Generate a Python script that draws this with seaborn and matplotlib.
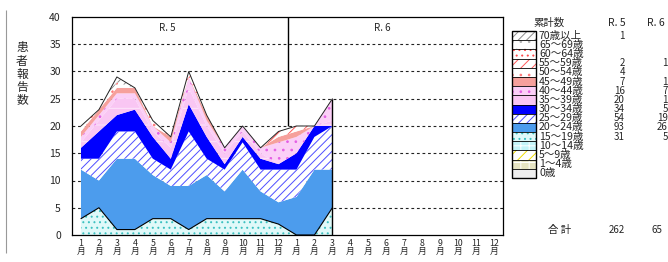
import numpy as np
import pandas as pd
import matplotlib
matplotlib.use("Agg")
import matplotlib.pyplot as plt
import seaborn as sns
from matplotlib.patches import Rectangle

# ---------------- data ----------------
months = [f"{m}\n月" for m in range(1, 13)] * 2          # R5 1-12, R6 1-12
period_labels = ["R. 5", "R. 6"]
# reports per month: R5 Jan..Dec, R6 Jan..Mar
a0 = [0, 0, 0, 0, 0, 0, 0, 0, 0, 0, 0, 0, 0, 0, 0]
a1_4 = [0, 0, 0, 0, 0, 0, 0, 0, 0, 0, 0, 0, 0, 0, 0]
a5_9 = [0, 0, 0, 0, 0, 0, 0, 0, 0, 0, 0, 0, 0, 0, 0]
a10_14 = [0, 0, 0, 0, 0, 0, 0, 0, 0, 0, 0, 0, 0, 0, 0]
a15_19 = [3, 5, 1, 1, 3, 3, 1, 3, 3, 3, 3, 2, 0, 0, 5]
a20_24 = [9, 5, 13, 13, 8, 6, 8, 8, 5, 9, 5, 4, 7, 12, 7]
a25_29 = [2, 4, 5, 5, 3, 3, 10, 3, 4, 5, 4, 6, 5, 6, 8]
a30_34 = [2, 5, 3, 4, 4, 2, 5, 4, 1, 1, 2, 1, 3, 2, 0]
a35_39 = [1, 2, 3, 2, 1, 2, 3, 2, 2, 1, 1, 0, 0, 0, 1]
a40_44 = [1, 1, 1, 1, 1, 1, 2, 1, 1, 1, 1, 4, 3, 0, 4]
a45_49 = [1, 1, 1, 1, 0, 1, 0, 1, 0, 0, 0, 1, 1, 0, 0]
a50_54 = [1, 0, 1, 0, 1, 0, 0, 0, 0, 0, 0, 0, 0, 0, 0]
a55_59 = [0, 0, 0, 0, 0, 0, 1, 0, 0, 0, 0, 1, 1, 0, 0]
a60_64 = [0, 0, 0, 0, 0, 0, 0, 0, 0, 0, 0, 0, 0, 0, 0]
a65_69 = [0, 0, 0, 0, 0, 0, 0, 0, 0, 0, 0, 0, 0, 0, 0]
a70 = [0, 0, 1, 0, 0, 0, 0, 0, 0, 0, 0, 0, 0, 0, 0]

age_groups = ["0歳", "1～4歳", "5～9歳", "10～14歳", "15～19歳", "20～24歳",
              "25～29歳", "30～34歳", "35～39歳", "40～44歳", "45～49歳",
              "50～54歳", "55～59歳", "60～64歳", "65～69歳", "70歳以上"]
series = [a0, a1_4, a5_9, a10_14, a15_19, a20_24, a25_29, a30_34, a35_39,
          a40_44, a45_49, a50_54, a55_59, a60_64, a65_69, a70]

# cumulative totals column (legend order: 70歳以上 ... 0歳)
r5_totals = ["1", "", "", "2", "4", "7", "16", "20", "34", "54", "93", "31", "", "", "", ""]
r6_totals = ["", "", "", "1", "", "1", "7", "1", "5", "19", "26", "5", "", "", "", ""]
grand_totals = ["262", "65"]

# ---------------- styles ----------------
styles = {
    "70歳以上": dict(fc="white", hatch="////", hc="#8c8c8c"),
    "65～69歳": dict(fc="white", hatch="..", hc="#b4b4b4"),
    "60～64歳": dict(fc="white", hatch="...", hc="#ff4a4a"),
    "55～59歳": dict(fc="white", hatch="///", hc="#ff5a5a"),
    "50～54歳": dict(fc="white", hatch="..", hc="#ff7a7a"),
    "45～49歳": dict(fc="#f6a09c", hatch=None, hc=None),
    "40～44歳": dict(fc="#fbcff7", hatch="..", hc="#e45ee4"),
    "35～39歳": dict(fc="#f9c6f3", hatch="-", hc="#fde6fb"),
    "30～34歳": dict(fc="#0000ff", hatch=None, hc=None),
    "25～29歳": dict(fc="white", hatch="////", hc="#4e4eff"),
    "20～24歳": dict(fc="#4c9ced", hatch=None, hc=None),
    "15～19歳": dict(fc="#e0f9f9", hatch="...", hc="#3cc0c0"),
    "10～14歳": dict(fc="#c4f4f8", hatch="++", hc="white"),
    "5～9歳": dict(fc="white", hatch="///", hc="#f0dc00"),
    "1～4歳": dict(fc="#e6e4c2", hatch="++", hc="white"),
    "0歳": dict(fc="#eeeeee", hatch=None, hc=None),
}

sns.set_style("white")
plt.rcParams["font.family"] = ["Noto Sans CJK JP", "DejaVu Sans"]
plt.rcParams["hatch.linewidth"] = 0.7

W, H = 668, 262
fig = plt.figure(figsize=(W / 100, H / 100), dpi=100)
fig.patch.set_facecolor("white")
ax = fig.add_axes([72 / W, 1 - 235 / H, (503 - 72) / W, (235 - 17) / H])

x = np.arange(1, len(a15_19) + 1)
df = pd.DataFrame({g: s for g, s in zip(age_groups, series)})
df["x"] = x
cum = np.zeros(len(x))
for g in age_groups:
    vals = df[g].to_numpy(dtype=float)
    top = cum + vals
    st = styles[g]
    kw = dict(facecolor=st["fc"], linewidth=0)
    if st["hatch"]:
        kw.update(hatch=st["hatch"], edgecolor=st["hc"])
    else:
        kw.update(edgecolor="none")
    ax.fill_between(x, cum, top, **kw, zorder=2)
    if g == "15～19歳":
        sns.lineplot(x=x, y=top, ax=ax, color="black", lw=0.8, zorder=3)
    cum = top
total = cum
sns.lineplot(x=x, y=total, ax=ax, color="#222222", lw=0.7, zorder=3)
ax.vlines(x[-1], 0, total[-1], color="black", lw=1.0, zorder=3)

# grid
for yv in range(5, 40, 5):
    ax.axhline(yv, color="#222222", lw=0.8, ls=(0, (2.5, 2.5)), zorder=1)

# period divider
ax.vlines(12.5, total[12], 40, color="black", lw=1.0, zorder=3)
ax.text(5.8, 38.0, period_labels[0], fontsize=7, ha="center", va="center")
ax.text(17.8, 38.0, period_labels[1], fontsize=7, ha="center", va="center")

ax.set_xlim(0.5, 24.5)
ax.set_ylim(0, 40)
ax.set_yticks(range(0, 41, 5))
ax.set_yticklabels([str(v) for v in range(0, 41, 5)], fontsize=7.5)
ax.set_xticks(range(1, 25))
ax.set_xticklabels(months, fontsize=6.3, linespacing=0.85)
ax.tick_params(axis="both", length=0)
ax.tick_params(axis="y", pad=8)
ax.tick_params(axis="x", pad=3)
ax.set_xlabel("")
ax.set_ylabel("")
for s in ax.spines.values():
    s.set_visible(True)
    s.set_color("black")
    s.set_linewidth(0.9)

# overlay for legend / annotations in pixel coordinates
ov = fig.add_axes([0, 0, 1, 1], zorder=5)
ov.set_xlim(0, W)
ov.set_ylim(H, 0)
ov.axis("off")
ov.patch.set_alpha(0)

ov.vlines(6, 10, 253, color="#999999", lw=0.8)
ov.text(22, 74, "\n".join("患者報告数"), fontsize=8.5, ha="center", va="center",
        linespacing=1.0)

legend_order = age_groups[::-1]
lx0, lx1, ly0, ly1 = 512, 536, 31, 178
rh = (ly1 - ly0) / len(legend_order)
for i, g in enumerate(legend_order):
    st = styles[g]
    y0 = ly0 + i * rh
    kw = dict(facecolor=st["fc"], linewidth=0)
    if st["hatch"]:
        kw.update(hatch=st["hatch"], edgecolor=st["hc"])
    else:
        kw.update(edgecolor="none")
    ov.add_patch(Rectangle((lx0, y0), lx1 - lx0, rh, **kw))
    ov.add_patch(Rectangle((lx0, y0), lx1 - lx0, rh, facecolor="none",
                           edgecolor="black", linewidth=0.6))
    yc = y0 + rh / 2
    ov.text(539, yc, g, fontsize=7.6, ha="left", va="center")
    if r5_totals[i]:
        ov.text(625, yc, r5_totals[i], fontsize=7, ha="right", va="center")
    if r6_totals[i]:
        ov.text(668, yc, r6_totals[i], fontsize=7, ha="right", va="center")
ov.add_patch(Rectangle((lx0, ly0), lx1 - lx0, ly1 - ly0, facecolor="none",
                       edgecolor="black", linewidth=1.0))

ov.text(533, 23, "累計数", fontsize=7.5, ha="left", va="center")
ov.text(617, 23, period_labels[0], fontsize=7.5, ha="center", va="center")
ov.text(656, 23, period_labels[1], fontsize=7.5, ha="center", va="center")
ov.text(560, 230, "合 計", fontsize=7.5, ha="center", va="center")
ov.text(625, 230, grand_totals[0], fontsize=7, ha="right", va="center")
ov.text(662, 230, grand_totals[1], fontsize=7, ha="right", va="center")

fig.savefig("out.png", dpi=100)
